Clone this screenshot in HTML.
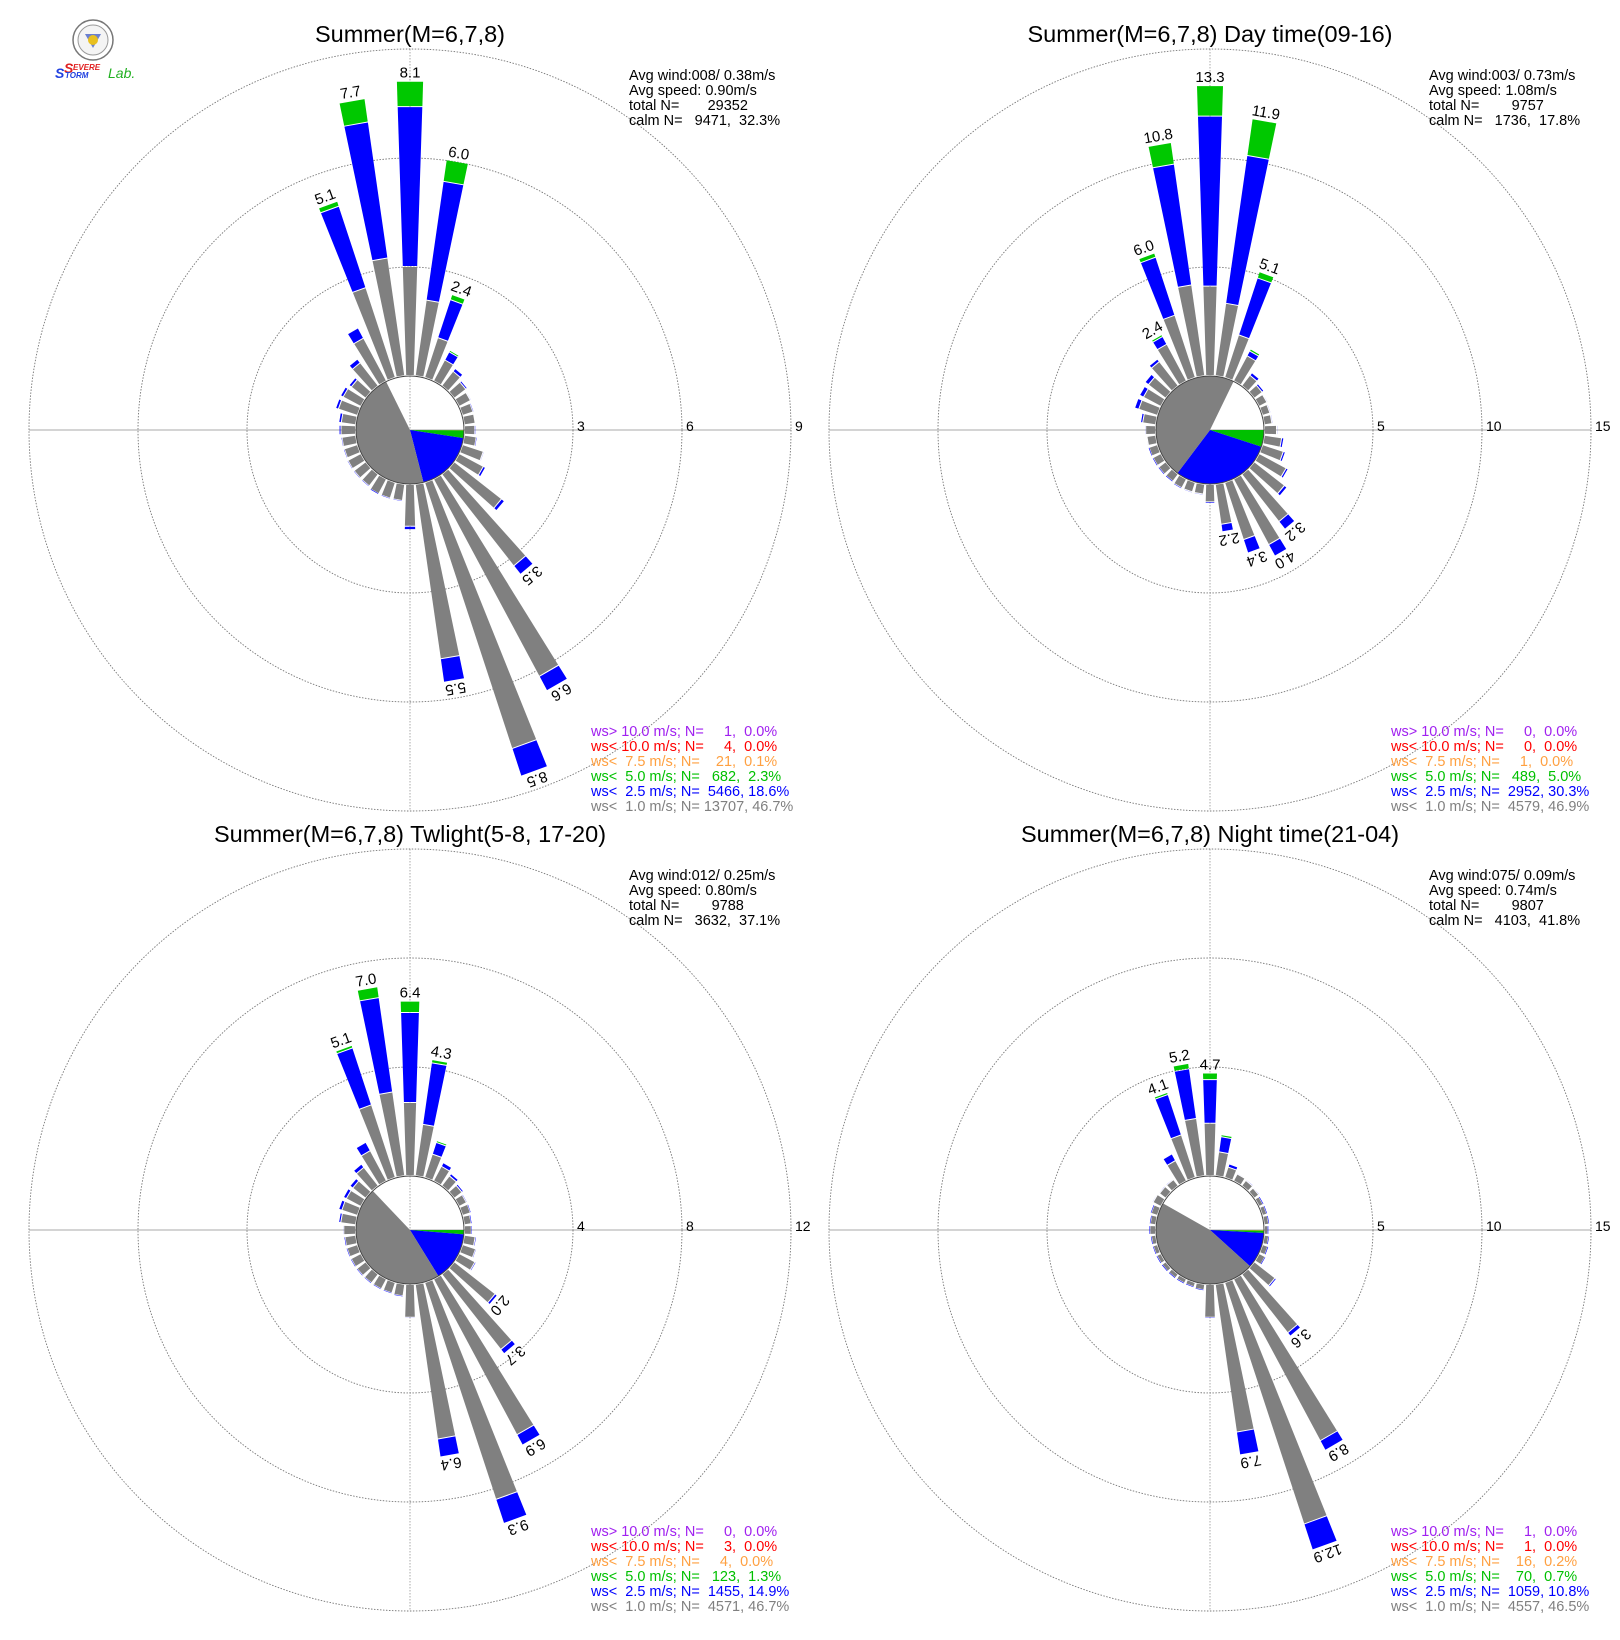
<!DOCTYPE html>
<html><head><meta charset="utf-8"><title>Summer wind roses</title>
<style>
html,body{margin:0;padding:0;background:#fff;}
svg{display:block;font-family:"Liberation Sans",Arial,sans-serif;}
svg text{white-space:pre;}
</style></head>
<body>
<svg id="chart" width="1620" height="1640" viewBox="0 0 1620 1640" xmlns="http://www.w3.org/2000/svg">
<rect x="0" y="0" width="1620" height="1640" fill="#fff"/>
<g>
  <circle cx="93" cy="40" r="20" fill="#fff" stroke="#777" stroke-width="1.5"/>
  <circle cx="93" cy="40" r="15" fill="#f4f4f4" stroke="#999" stroke-width="1"/>
  <path d="M85 34 L101 34 L93 48 Z" fill="#6a7fd0"/>
  <circle cx="93" cy="40" r="5" fill="#e8c020"/>
  <text x="64" y="73" font-size="14" fill="#e02020" font-style="italic" font-weight="bold">S</text>
  <text x="73" y="70" font-size="8" fill="#e02020" font-style="italic" font-weight="bold">EVERE</text>
  <text x="55" y="78" font-size="14" fill="#2040e0" font-style="italic" font-weight="bold">S</text>
  <text x="65" y="78" font-size="8" fill="#2040e0" font-style="italic" font-weight="bold">TORM</text>
  <text x="108" y="78" font-size="14" fill="#20b020" font-style="italic">Lab.</text>
</g>
</svg>
<script>
// ---- data: cumulative radial ends (gray end, blue end, total) per 10 deg direction (0..350) ----
const directions = [0,10,20,30,40,50,60,70,80,90,100,110,120,130,140,150,160,170,180,190,200,210,220,230,240,250,260,270,280,290,300,310,320,330,340,350];

const tlGray  = [3.0,2.1,1.15,0.65,0.5,0.4,0.35,0.3,0.3,0.28,0.33,0.6,0.75,1.65,3.2,6.15,7.7,4.85,1.15,0.45,0.45,0.45,0.4,0.4,0.4,0.38,0.38,0.4,0.4,0.55,0.55,0.5,0.8,1.33,2.6,3.27];
const tlBlue  = [7.4,5.4,2.25,0.9,0.6,0.45,0.38,0.32,0.3,0.3,0.35,0.63,0.82,1.75,3.5,6.6,8.5,5.5,1.24,0.47,0.47,0.46,0.42,0.42,0.42,0.4,0.4,0.45,0.47,0.63,0.63,0.58,0.93,1.65,4.96,7.05];
const tlTotal = [8.1,6.0,2.4,0.95,0.6,0.45,0.38,0.32,0.3,0.3,0.35,0.63,0.82,1.75,3.5,6.6,8.5,5.5,1.24,0.47,0.47,0.46,0.42,0.42,0.42,0.4,0.4,0.45,0.47,0.63,0.63,0.58,0.93,1.65,5.1,7.7];

const trGray  = [4.1,3.35,2.05,1.3,0.6,0.45,0.4,0.35,0.35,0.55,0.8,1.0,1.4,1.75,2.75,3.4,2.75,1.85,0.8,0.45,0.45,0.45,0.4,0.4,0.4,0.4,0.4,0.45,0.6,0.9,0.9,1.0,1.4,1.9,3.0,4.2];
const trBlue  = [11.9,10.2,4.8,1.55,0.75,0.55,0.45,0.4,0.4,0.6,0.9,1.1,1.5,1.9,3.2,4.0,3.4,2.2,0.87,0.5,0.5,0.48,0.42,0.42,0.42,0.42,0.45,0.5,0.7,1.1,1.1,1.2,1.55,2.3,5.8,9.8];
const trTotal = [13.3,11.9,5.1,1.65,0.75,0.55,0.45,0.4,0.4,0.6,0.9,1.1,1.5,1.9,3.2,4.0,3.4,2.2,0.87,0.5,0.5,0.48,0.42,0.42,0.42,0.42,0.45,0.5,0.7,1.1,1.1,1.2,1.55,2.4,6.0,10.8];

const blGray  = [2.68,1.9,0.9,0.6,0.45,0.35,0.3,0.3,0.25,0.25,0.4,0.5,0.65,1.9,3.5,6.47,8.37,5.73,1.2,0.43,0.4,0.4,0.4,0.4,0.4,0.4,0.4,0.43,0.55,0.6,0.6,0.6,0.85,1.25,2.8,3.1];
const blBlue  = [5.98,4.18,1.35,0.75,0.55,0.42,0.33,0.32,0.27,0.27,0.45,0.53,0.7,2.0,3.7,6.9,9.3,6.4,1.24,0.45,0.42,0.42,0.42,0.42,0.42,0.42,0.42,0.47,0.63,0.72,0.72,0.73,1.0,1.6,5.0,6.6];
const blTotal = [6.4,4.3,1.42,0.75,0.55,0.42,0.33,0.32,0.27,0.27,0.45,0.53,0.7,2.0,3.7,6.9,9.3,6.4,1.24,0.45,0.42,0.42,0.42,0.42,0.42,0.42,0.42,0.47,0.63,0.72,0.72,0.73,1.0,1.6,5.1,7.0];

const brGray  = [2.4,1.1,0.5,0.35,0.3,0.25,0.2,0.2,0.2,0.15,0.2,0.25,0.3,1.2,3.4,8.4,11.65,6.84,1.5,0.25,0.2,0.2,0.2,0.2,0.2,0.2,0.2,0.25,0.25,0.3,0.4,0.35,0.35,1.05,2.05,2.65];
const brBlue  = [4.4,1.8,0.65,0.4,0.35,0.3,0.22,0.22,0.22,0.17,0.22,0.27,0.32,1.28,3.6,8.9,12.9,7.9,1.56,0.27,0.22,0.22,0.22,0.22,0.22,0.22,0.22,0.27,0.27,0.32,0.45,0.4,0.4,1.4,4.0,4.95];
const brTotal = [4.7,1.9,0.65,0.4,0.35,0.3,0.22,0.22,0.22,0.17,0.22,0.27,0.32,1.28,3.6,8.9,12.9,7.9,1.56,0.27,0.22,0.22,0.22,0.22,0.22,0.22,0.22,0.27,0.27,0.32,0.45,0.4,0.4,1.4,4.1,5.2];

// labelled directions (degrees)
const tlLabelDirs = [0,10,20,340,350,140,150,160,170];
const trLabelDirs = [0,10,20,330,340,350,140,150,160,170];
const blLabelDirs = [0,10,340,350,130,140,150,160,170];
const brLabelDirs = [0,340,350,140,150,160,170];

// ring tick values
const tlRings = [3,6,9];
const trRings = [5,10,15];
const blRings = [4,8,12];
const brRings = [5,10,15];

// legend: class labels, counts, percentages
const legendLabels = ["ws> 10.0 m/s; N=","ws< 10.0 m/s; N=","ws<  7.5 m/s; N=","ws<  5.0 m/s; N=","ws<  2.5 m/s; N=","ws<  1.0 m/s; N="];
const tlCounts = [1,4,21,682,5466,13707];
const tlPcts   = [0.0,0.0,0.1,2.3,18.6,46.7];
const trCounts = [0,0,1,489,2952,4579];
const trPcts   = [0.0,0.0,0.0,5.0,30.3,46.9];
const blCounts = [0,3,4,123,1455,4571];
const blPcts   = [0.0,0.0,0.0,1.3,14.9,46.7];
const brCounts = [1,1,16,70,1059,4557];
const brPcts   = [0.0,0.0,0.2,0.7,10.8,46.5];

const tlInfo = ["Avg wind:008/ 0.38m/s","Avg speed: 0.90m/s","total N=       29352","calm N=   9471,  32.3%"];
const trInfo = ["Avg wind:003/ 0.73m/s","Avg speed: 1.08m/s","total N=        9757","calm N=   1736,  17.8%"];
const blInfo = ["Avg wind:012/ 0.25m/s","Avg speed: 0.80m/s","total N=        9788","calm N=   3632,  37.1%"];
const brInfo = ["Avg wind:075/ 0.09m/s","Avg speed: 0.74m/s","total N=        9807","calm N=   4103,  41.8%"];

const titles = ["Summer(M=6,7,8)","Summer(M=6,7,8) Day time(09-16)","Summer(M=6,7,8) Twlight(5-8, 17-20)","Summer(M=6,7,8) Night time(21-04)"];

const classColors = ["#a020f0","#ff0000","#ffa040","#00c000","#0000ff","#808080"];

const NS = "http://www.w3.org/2000/svg";
const svg = document.getElementById("chart");
const R0 = 54, ROUT = 381;

function mk(tag, parent){ const e = document.createElementNS(NS, tag); parent.appendChild(e); return e; }
function pol(cx, cy, th, r){ const a = th*Math.PI/180; return [cx + r*Math.sin(a), cy - r*Math.cos(a)]; }
function hw(r){ return 2 + 0.032*r; }
function quad(cx, cy, th, r1, r2){
  const a = th*Math.PI/180, px = Math.cos(a), py = Math.sin(a);
  const p1 = pol(cx,cy,th,r1), p2 = pol(cx,cy,th,r2);
  const h1 = hw(r1), h2 = hw(r2);
  return [[p1[0]-px*h1,p1[1]-py*h1],[p2[0]-px*h2,p2[1]-py*h2],[p2[0]+px*h2,p2[1]+py*h2],[p1[0]+px*h1,p1[1]+py*h1]]
    .map(p=>p[0].toFixed(1)+","+p[1].toFixed(1)).join(" ");
}
function padL(s, n){ s = String(s); while (s.length < n) s = " " + s; return s; }

function drawPanel(cx, cy, title, rings, gray, blue, total, labelDirs, counts, pcts, info, key){
  const g = mk("g", svg);
  
  
  const k = (ROUT - R0) / rings[rings.length-1];
  const rad = v => R0 + v*k;

  const hl = mk("line", g);
  hl.setAttribute("x1", cx-ROUT); hl.setAttribute("x2", cx+ROUT); hl.setAttribute("y1", cy); hl.setAttribute("y2", cy);
  hl.setAttribute("stroke", "#bbb"); hl.setAttribute("stroke-width", "1.2");
  
  
  const vl = mk("line", g);
  vl.setAttribute("x1", cx); vl.setAttribute("x2", cx); vl.setAttribute("y1", cy-ROUT); vl.setAttribute("y2", cy+ROUT);
  vl.setAttribute("stroke", "#aaa"); vl.setAttribute("stroke-width", "1"); vl.setAttribute("stroke-dasharray", "1.5,1.5");
  
  

  rings.forEach(v => {
    const c = mk("circle", g);
    c.setAttribute("cx", cx); c.setAttribute("cy", cy); c.setAttribute("r", rad(v));
    c.setAttribute("fill", "none"); c.setAttribute("stroke", "#777"); c.setAttribute("stroke-width", "0.9"); c.setAttribute("stroke-dasharray", "1.5,1.5");
    
    
    const t = mk("text", g);
    t.setAttribute("x", cx + rad(v) + 4); t.setAttribute("y", cy + 1);
    t.setAttribute("font-size", "14"); t.setAttribute("fill", "#000");
    t.textContent = v;
    
    
  });

  directions.forEach((d, i) => {
    const segs = [[0, gray[i], "#808080"], [gray[i], blue[i], "#0000ff"], [blue[i], total[i], "#00c800"]];
    segs.forEach(s => {
      if (s[1] - s[0] <= 0.001) return;
      const p = mk("polygon", g);
      p.setAttribute("points", quad(cx, cy, d, rad(s[0]) + 1, rad(s[1])));
      p.setAttribute("fill", s[2]);
      
      
    });
    if (labelDirs.indexOf(d) >= 0) {
      const t = mk("text", g);
      t.setAttribute("x", 0); t.setAttribute("y", -(rad(total[i]) + 4));
      t.setAttribute("text-anchor", "middle"); t.setAttribute("font-size", "15");
      t.setAttribute("transform", "translate(" + cx + "," + cy + ") rotate(" + d + ")");
      t.textContent = total[i].toFixed(1);
      
      
    }
  });

  let ang = 90;
  for (let j = 0; j < 6; j++) {
    const span = pcts[j] * 3.6;
    if (span <= 0) continue;
    const a1 = pol(cx, cy, ang, R0), a2 = pol(cx, cy, ang + span, R0);
    const p = mk("path", g);
    p.setAttribute("d", "M" + cx + "," + cy + " L" + a1[0].toFixed(2) + "," + a1[1].toFixed(2) +
      " A" + R0 + "," + R0 + " 0 " + (span > 180 ? 1 : 0) + " 1 " + a2[0].toFixed(2) + "," + a2[1].toFixed(2) + " Z");
    p.setAttribute("fill", classColors[j]);
    
    
    ang += span;
  }
  const pc = mk("circle", g);
  pc.setAttribute("cx", cx); pc.setAttribute("cy", cy); pc.setAttribute("r", R0);
  pc.setAttribute("fill", "none"); pc.setAttribute("stroke", "#444"); pc.setAttribute("stroke-width", "1");
  
  

  const tt = mk("text", g);
  tt.setAttribute("x", cx); tt.setAttribute("y", cy - 388);
  tt.setAttribute("text-anchor", "middle"); tt.setAttribute("font-size", "23.5");
  tt.textContent = title;
  
  

  info.forEach((s, j) => {
    const t = mk("text", g);
    t.setAttribute("x", cx + 219); t.setAttribute("y", cy - 350 + j*15);
    t.setAttribute("font-size", "14.5");
    t.textContent = s;
    
    
  });

  for (let j = 0; j < 6; j++) {
    const y = cy + 306 + j*15;
    const a = mk("text", g);
    a.setAttribute("x", cx + 181); a.setAttribute("y", y); a.setAttribute("font-size", "14.5");
    a.setAttribute("fill", classColors[j]);
    a.textContent = legendLabels[j] + padL(counts[j], 6) + "," + padL(pcts[j].toFixed(1), 5) + "%";
    
    
  }
}

drawPanel(410, 430, titles[0], tlRings, tlGray, tlBlue, tlTotal, tlLabelDirs, tlCounts, tlPcts, tlInfo, "all-day");
drawPanel(1210, 430, titles[1], trRings, trGray, trBlue, trTotal, trLabelDirs, trCounts, trPcts, trInfo, "day-time");
drawPanel(410, 1230, titles[2], blRings, blGray, blBlue, blTotal, blLabelDirs, blCounts, blPcts, blInfo, "twilight");
drawPanel(1210, 1230, titles[3], brRings, brGray, brBlue, brTotal, brLabelDirs, brCounts, brPcts, brInfo, "night-time");
</script>
</body></html>
